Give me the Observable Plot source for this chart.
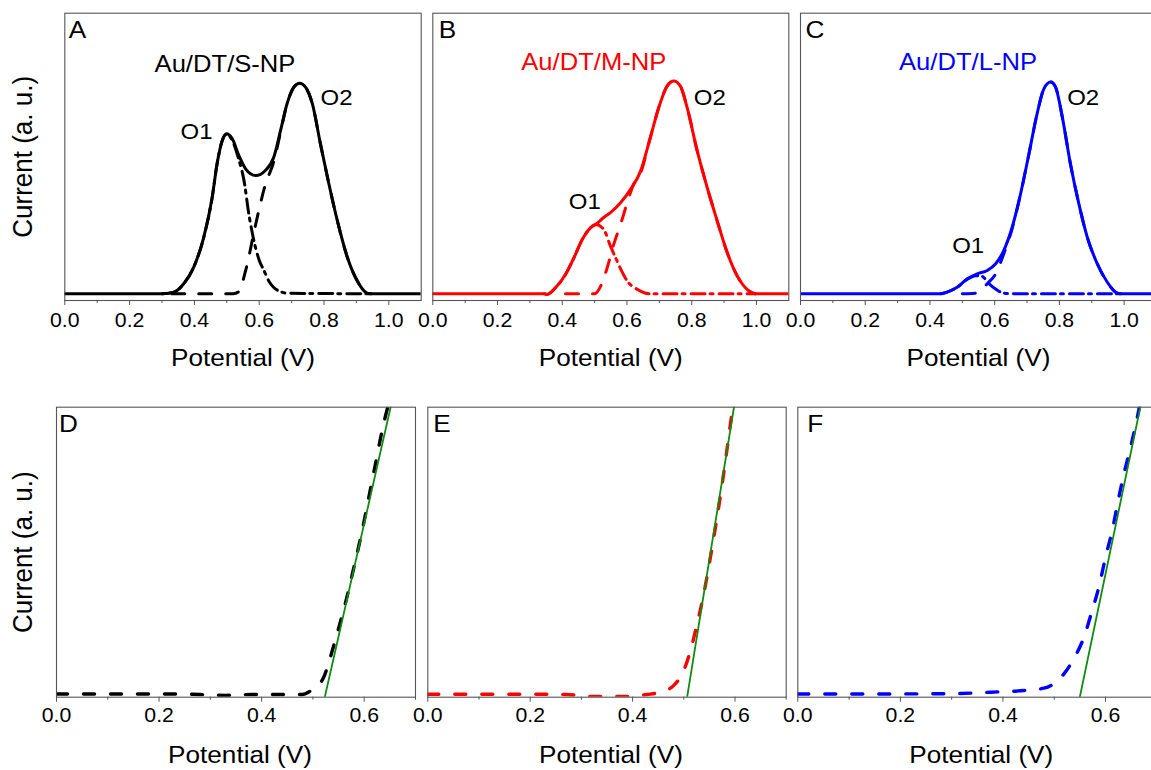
<!DOCTYPE html>
<html><head><meta charset="utf-8">
<script src="https://cdn.jsdelivr.net/npm/d3@7"></script>
<script src="https://cdn.jsdelivr.net/npm/@observablehq/plot@0.6"></script>
<style>
html,body{margin:0;padding:0;background:#fff;overflow:hidden;}
#fig{position:relative;width:1151px;height:770px;overflow:hidden;background:#fff;}
#fig svg{position:absolute;overflow:visible;max-width:none;background:transparent;}
</style></head><body><div id="fig"></div>
<script>
// ---------- text ----------
const panelLetters = ["A", "B", "C", "D", "E", "F"];
const sampleNames = ["Au/DT/S-NP", "Au/DT/M-NP", "Au/DT/L-NP"];
const peakNames = ["O1", "O2"];
const xTitle = "Potential (V)";
const yTitle = "Current (a. u.)";
const topMajorTicks = [0, 0.2, 0.4, 0.6, 0.8, 1.0];
const topMinorTicks = [0.1, 0.3, 0.5, 0.7, 0.9];
const botMajorTicks = [0, 0.2, 0.4, 0.6];
const botMinorTicks = [0.1, 0.3, 0.5, 0.7];

// ---------- panel A (S-NP) ----------
const aX = [0, 0.30, 0.337, 0.367, 0.398, 0.429, 0.455, 0.470, 0.486, 0.499, 0.517, 0.537, 0.558, 0.589, 0.619, 0.645, 0.666, 0.686, 0.707, 0.725, 0.743, 0.764, 0.789, 0.815, 0.841, 0.872, 0.902, 0.933, 0.945, 1.1];
const aTotal = [0, 0, 0.8, 4.8, 12.7, 27.0, 46.0, 61.9, 73.0, 76.2, 73.8, 65.9, 59.5, 56.3, 58.7, 65.0, 77.8, 90.5, 98.4, 100.3, 98.4, 90.5, 71.4, 52.4, 34.9, 17.4, 6.3, 0.3, 0, 0];
const aO1X = [0.30, 0.337, 0.367, 0.398, 0.429, 0.455, 0.470, 0.486, 0.499, 0.517, 0.537, 0.553, 0.568, 0.584, 0.600, 0.615, 0.630, 0.645, 0.666, 0.686, 0.940];
const aO1Y = [0, 0.8, 4.8, 12.7, 27.0, 46.0, 61.9, 73.0, 76.0, 73.0, 64.0, 54.0, 38.0, 25.0, 16.0, 11.0, 6.0, 3.0, 1.0, 0.3, 0];
const aO2X = [0.33, 0.52, 0.537, 0.558, 0.589, 0.619, 0.645, 0.666, 0.686, 0.707, 0.725, 0.743, 0.764, 0.789, 0.815, 0.841, 0.872, 0.902, 0.933, 0.945];
const aO2Y = [0, 0, 1, 11, 33, 52, 63, 77, 90.5, 98.4, 100.3, 98.4, 90.5, 71.4, 52.4, 34.9, 17.4, 6.3, 0.3, 0];

// ---------- panel B (M-NP) ----------
const bX = [0, 0.345, 0.353, 0.379, 0.410, 0.436, 0.462, 0.487, 0.503, 0.528, 0.549, 0.580, 0.611, 0.642, 0.672, 0.698, 0.724, 0.745, 0.765, 0.786, 0.817, 0.848, 0.879, 0.910, 0.941, 0.971, 0.997, 1.1];
const bTotal = [0, 0, -0.3, 2.9, 9.2, 17.1, 25.9, 31.4, 33.0, 36.3, 38.6, 43.3, 49.7, 58.4, 74.3, 88.6, 98.9, 101.3, 98.9, 88.6, 68.0, 50.5, 34.6, 19.5, 8.4, 2.1, 0, 0];
const bO1X = [0.345, 0.353, 0.379, 0.410, 0.436, 0.462, 0.487, 0.503, 0.528, 0.549, 0.565, 0.583, 0.601, 0.632, 0.672, 0.997];
const bO1Y = [0, -0.3, 2.9, 9.2, 17.1, 25.9, 31.4, 33.0, 30.7, 22.7, 17.1, 11.0, 6.0, 2.1, 0, 0];
const bO2X = [0.41, 0.50, 0.52, 0.54, 0.56, 0.58, 0.60, 0.62, 0.642, 0.672, 0.698, 0.724, 0.745, 0.765, 0.786, 0.817, 0.848, 0.879, 0.910, 0.941, 0.971, 0.997];
const bO2Y = [0, 0, 4, 13, 24, 33, 43, 52, 57.5, 74.3, 88.6, 98.9, 101.3, 98.9, 88.6, 68.0, 50.5, 34.6, 19.5, 8.4, 2.1, 0];

// ---------- panel C (L-NP) ----------
const cX = [0, 0.433, 0.453, 0.484, 0.515, 0.546, 0.577, 0.603, 0.628, 0.654, 0.680, 0.706, 0.731, 0.752, 0.773, 0.788, 0.809, 0.834, 0.860, 0.886, 0.917, 0.948, 0.979, 0.990, 1.1];
const cTotal = [0, 0, 0.8, 3.1, 7.1, 9.5, 11.1, 14.3, 20.6, 31.7, 47.6, 66.7, 85.7, 97.6, 100.8, 98.4, 84.1, 61.9, 42.9, 27.0, 14.3, 5.5, 0.3, 0, 0];
const cO1X = [0.433, 0.453, 0.484, 0.515, 0.540, 0.560, 0.582, 0.605, 0.628, 0.660, 0.990];
const cO1Y = [0, 0.8, 3.1, 6.8, 8.6, 8.4, 4.8, 2.0, 0.3, 0, 0];
const cO2X = [0.50, 0.54, 0.56, 0.577, 0.603, 0.628, 0.654, 0.680, 0.706, 0.731, 0.752, 0.773, 0.788, 0.809, 0.834, 0.860, 0.886, 0.917, 0.948, 0.979, 0.990];
const cO2Y = [0, 0.3, 2, 4.8, 9.5, 19, 31, 47.6, 66.7, 85.7, 97.6, 100.8, 98.4, 84.1, 61.9, 42.9, 27.0, 14.3, 5.5, 0.3, 0];

// ---------- panels D, E, F (onset curves and linear fits) ----------
const dX = [0, 0.1, 0.2, 0.28, 0.33, 0.38, 0.44, 0.479, 0.498, 0.521, 0.534, 0.547, 0.563, 0.580, 0.596, 0.609, 0.622, 0.635, 0.645, 0.649];
const dY = [0.2, 0.2, 0.2, 0, -0.3, 0, 0, 0, 1.6, 6.0, 13.0, 21.1, 31.6, 44.4, 57.1, 68.7, 80.4, 92.0, 99.5, 102];
const dFitX = [0.523, 0.652];
const dFitY = [-1, 100.5];
const eX = [0, 0.1, 0.2, 0.27, 0.324, 0.376, 0.428, 0.454, 0.480, 0.500, 0.513, 0.526, 0.539, 0.552, 0.565, 0.575, 0.585, 0.595, 0.598];
const eY = [0.1, 0.1, 0.1, 0, -0.7, -0.7, 0, 0.8, 3.1, 8.4, 15.3, 24.6, 35.1, 47.8, 61.8, 73.4, 86.2, 99, 102];
const eFitX = [0.5064, 0.5984];
const eFitY = [-1, 100.5];
const fX = [0, 0.1, 0.2, 0.3, 0.376, 0.441, 0.480, 0.499, 0.519, 0.538, 0.558, 0.574, 0.587, 0.600, 0.613, 0.626, 0.636, 0.649, 0.662, 0.667];
const fY = [0.2, 0.2, 0.2, 0.3, 0.8, 1.4, 2.2, 3.7, 7.2, 12.4, 20, 29.3, 37.4, 47.8, 57.1, 68.7, 76.9, 86.2, 96.6, 101];
const fFitX = [0.5498, 0.6683];
const fFitY = [-1, 100.5];

// ---------- rendering ----------
const table = (xs, ys) => xs.map((x, i) => ({x, y: ys[i]}));
const FONT = "'Liberation Sans', Arial, Helvetica, sans-serif";
const S = 1.09; // horizontal stretch of the original lettering
const DASH = "13,14";
const DASHDOT = "14,5,3,6";

function stretchText(svg) {
  svg.querySelectorAll("text").forEach(t => {
    let tr = t.getAttribute("transform");
    if (!tr) {
      const x = parseFloat(t.getAttribute("x"));
      if (!isNaN(x) && !/em/.test(t.getAttribute("x"))) { t.setAttribute("x", 0); tr = `translate(${x},0)`; }
      else tr = "";
    }
    t.setAttribute("transform", tr + (/rotate/.test(tr) ? ` scale(1,${S})` : ` scale(${S},1)`));
  });
}

function panel(p) {
  const marks = [];
  p.curves.forEach(c => marks.push(Plot.line(c.data, {x: "x", y: "y", stroke: c.color, strokeWidth: c.width, strokeDasharray: c.dash, curve: c.curve || "monotone-x", clip: true})));
  marks.push(Plot.frame({stroke: "#555", strokeWidth: 1.1}));
  marks.push(Plot.axisX(p.major, {tickSize: 5, tickPadding: p.tickPad, tickFormat: d => d.toFixed(1), fontSize: 19.5, stroke: "#555", fill: "#000", label: null}));
  marks.push(Plot.axisX(p.minor, {tickSize: 3, tickFormat: () => "", stroke: "#555", label: null}));
  marks.push(Plot.text([xTitle], {frameAnchor: "bottom", dy: p.titleDy, dx: p.titleDx, text: d => d, lineAnchor: "top", textAnchor: "middle", fontSize: 24, fill: "#000"}));
  if (p.yTitle) marks.push(Plot.text([yTitle], {frameAnchor: "left", dx: p.yTitleDx, rotate: -90, text: d => d, lineAnchor: "middle", textAnchor: "middle", fontSize: 26, fill: "#000"}));
  marks.push(Plot.text([p.letter], {frameAnchor: "top-left", dx: p.letterDx, dy: p.letterDy, text: d => d, lineAnchor: "top", textAnchor: "start", fontSize: 24, fill: "#000"}));
  (p.notes || []).forEach(n => marks.push(Plot.text([n.text], {frameAnchor: "top-left", dx: n.dx, dy: n.dy, text: d => d, lineAnchor: "top", textAnchor: n.anchor || "start", fontSize: n.size, fill: n.color || "#000"})));
  const svg = Plot.plot({
    width: p.width, height: p.height,
    marginLeft: p.mL, marginRight: p.mR, marginTop: p.mT, marginBottom: p.mB,
    x: {domain: p.xDomain, axis: null},
    y: {domain: p.yDomain, axis: null},
    style: {fontFamily: FONT, color: "#000", background: "transparent", overflow: "visible"},
    marks
  });
  stretchText(svg);
  svg.style.left = p.left + "px";
  svg.style.top = p.top + "px";
  document.getElementById("fig").appendChild(svg);
}

const topCommon = {top: 0, height: 390, mT: 12.7, mB: 90, xDomain: [0, 1.1], yDomain: [-3.2, 133.6], major: topMajorTicks, minor: topMinorTicks, tickPad: 7.5, titleDy: 48, titleDx: 0, letterDy: 8};
const botCommon = {top: 390, height: 380, mT: 16.7, mB: 73.3, xDomain: [0, 0.7], yDomain: [-0.94, 100.1], major: botMajorTicks, minor: botMinorTicks, tickPad: 6.3, titleDy: 49, titleDx: 4, letterDy: 8};

function peakCurves(color, tX, tY, o1X, o1Y, o2X, o2Y) {
  return [
    {data: table(o2X, o2Y), color, width: 3, dash: DASH},
    {data: table(o1X, o1Y), color, width: 3, dash: DASHDOT},
    {data: table(tX, tY), color, width: 3}
  ];
}
function onsetCurves(color, x, y, fx, fy) {
  return [
    {data: table(x, y), color, width: 3.4, dash: "11,16"},
    {data: table(fx, fy), color: "#108a10", width: 1.8, curve: "linear"}
  ];
}

panel({...topCommon, left: 0, width: 430, mL: 64.3, mR: 9.3, yTitle: true, yTitleDx: -41.8, letter: panelLetters[0], letterDx: 4,
  curves: peakCurves("#000", aX, aTotal, aO1X, aO1Y, aO2X, aO2Y),
  notes: [{text: sampleNames[0], dx: 160.2, dy: 42, anchor: "middle", size: 23.5},
          {text: peakNames[0], dx: 115.7, dy: 110.3, size: 22},
          {text: peakNames[1], dx: 255.7, dy: 76.3, size: 22}]});
panel({...topCommon, left: 400, width: 400, mL: 32.3, mR: 11.7, letter: panelLetters[1], letterDx: 6,
  curves: peakCurves("#ff0000", bX, bTotal, bO1X, bO1Y, bO2X, bO2Y),
  notes: [{text: sampleNames[1], dx: 161, dy: 40.3, anchor: "middle", size: 23.5, color: "#ff0000"},
          {text: peakNames[0], dx: 136, dy: 180.3, size: 22},
          {text: peakNames[1], dx: 261, dy: 76.3, size: 22}]});
panel({...topCommon, left: 770, width: 400, mL: 30, mR: 14, letter: panelLetters[2], letterDx: 5,
  curves: peakCurves("#0000ff", cX, cTotal, cO1X, cO1Y, cO2X, cO2Y),
  notes: [{text: sampleNames[2], dx: 167.5, dy: 40.3, anchor: "middle", size: 23.5, color: "#0000ff"},
          {text: peakNames[0], dx: 151.7, dy: 223.7, size: 22},
          {text: peakNames[1], dx: 266.7, dy: 76.3, size: 22}]});
panel({...botCommon, left: 0, width: 425, mL: 56, mR: 10, yTitle: true, yTitleDx: -33.5, letter: panelLetters[3], letterDx: 2.5,
  curves: onsetCurves("#000", dX, dY, dFitX, dFitY)});
panel({...botCommon, left: 400, width: 400, mL: 27.3, mR: 14.3, letter: panelLetters[4], letterDx: 5.4,
  curves: onsetCurves("#ff0000", eX, eY, eFitX, eFitY)});
panel({...botCommon, left: 770, width: 400, mL: 27.3, mR: 13.7, letter: panelLetters[5], letterDx: 9.4,
  curves: onsetCurves("#0000ff", fX, fY, fFitX, fFitY)});
</script></body></html>
